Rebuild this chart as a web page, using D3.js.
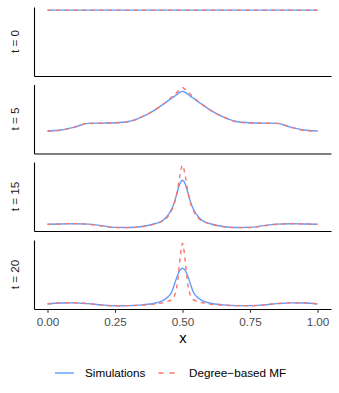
<!DOCTYPE html>
<html><head><meta charset="utf-8">
<script src="https://cdn.jsdelivr.net/npm/d3@7/dist/d3.min.js"></script>
<style>body{margin:0;background:#fff}svg{display:block;font-family:"Liberation Sans",Arial,sans-serif}</style>
</head><body><svg id="c" width="339" height="393"></svg>
<script>
const xs = [0,0.05,0.1,0.15,0.2,0.25,0.3,0.35,0.4,0.42,0.44,0.46,0.47,0.48,0.49,0.5,0.51,0.52,0.53,0.54,0.56,0.58,0.6,0.65,0.7,0.75,0.8,0.85,0.9,0.95,1];
const panelLabels = ["t = 0","t = 5","t = 15","t = 20"];
const sim0 = [1,1,1,1,1,1,1,1,1,1,1,1,1,1,1,1,1,1,1,1,1,1,1,1,1,1,1,1,1,1,1];
const mf0  = [1,1,1,1,1,1,1,1,1,1,1,1,1,1,1,1,1,1,1,1,1,1,1,1,1,1,1,1,1,1,1];
const sim5 = [0.31,0.325,0.37,0.43,0.435,0.44,0.46,0.535,0.65,0.71,0.77,0.83,0.86,0.895,0.925,0.94,0.925,0.895,0.86,0.83,0.77,0.71,0.65,0.535,0.46,0.44,0.435,0.43,0.37,0.325,0.31];
const mf5  = [0.305,0.32,0.37,0.43,0.433,0.437,0.455,0.535,0.65,0.71,0.775,0.85,0.89,0.93,0.97,1.0,0.97,0.93,0.89,0.85,0.775,0.71,0.65,0.535,0.455,0.437,0.433,0.43,0.37,0.32,0.305];
const sim15 = [0.057,0.062,0.066,0.06,0.035,0.008,0.006,0.022,0.07,0.10,0.17,0.30,0.41,0.56,0.70,0.76,0.70,0.56,0.41,0.30,0.17,0.10,0.07,0.022,0.006,0.008,0.035,0.06,0.066,0.062,0.057];
const mf15  = [0.055,0.063,0.068,0.058,0.03,0.005,0.004,0.02,0.065,0.095,0.15,0.28,0.39,0.57,0.83,1.0,0.83,0.57,0.39,0.28,0.15,0.095,0.065,0.02,0.004,0.005,0.03,0.058,0.068,0.063,0.055];
const sim20 = [0.03,0.045,0.048,0.035,0.015,0.003,0.004,0.015,0.045,0.07,0.12,0.22,0.34,0.47,0.565,0.60,0.565,0.47,0.34,0.22,0.12,0.07,0.045,0.015,0.004,0.003,0.015,0.035,0.048,0.045,0.03];
const mf20  = [0.032,0.048,0.05,0.036,0.014,0.002,0.003,0.012,0.03,0.045,0.065,0.10,0.16,0.33,0.72,1.0,0.72,0.33,0.16,0.10,0.065,0.045,0.03,0.012,0.003,0.002,0.014,0.036,0.05,0.048,0.032];
const xTicks = [0,0.25,0.5,0.75,1];
const seriesNames = ["Simulations","Degree\u2212based MF"];

const simSets = [sim0,sim5,sim15,sim20];
const mfSets = [mf0,mf5,mf15,mf20];
const blue = "#619CFF", red = "#F8766D";
const lw = 1.4;
const svg = d3.select("#c");
const left = 34, right = 331;
const tops = [7,84.5,162,240], ph = 69;
const x = d3.scaleLinear().domain([-0.05,1.05]).range([left,right]);

tops.forEach((top,i)=>{
  const bottom = top+ph;
  const mx = d3.max(simSets[i].concat(mfSets[i]));
  const y = d3.scaleLinear().domain([-0.05*mx,1.05*mx]).range([bottom,top]);
  const g = svg.append("g");
  const line = d3.line().x((d,j)=>x(xs[j])).y(d=>y(d)).curve(d3.curveMonotoneX);
  g.append("path").datum(simSets[i]).attr("d",line).attr("fill","none")
    .attr("stroke",blue).attr("stroke-width",lw);
  g.append("path").datum(mfSets[i]).attr("d",line).attr("fill","none")
    .attr("stroke",red).attr("stroke-width",lw).attr("stroke-dasharray","4.3,4.3");
  const ya = g.append("g").attr("transform",`translate(${left},0)`)
    .call(d3.axisLeft(y).tickValues([]).tickSizeOuter(0));
  ya.select(".domain").attr("stroke","#000").attr("stroke-width",1.1);
  const isLast = i===tops.length-1;
  const xa = g.append("g").attr("transform",`translate(0,${bottom})`)
    .call(d3.axisBottom(x).tickValues(isLast?xTicks:[]).tickSizeOuter(0).tickSizeInner(3.7).tickPadding(5).tickFormat(d3.format(".2f")));
  xa.select(".domain").attr("stroke","#000").attr("stroke-width",1.1);
  xa.selectAll(".tick line").attr("stroke","#333").attr("stroke-width",1.1);
  xa.selectAll(".tick text").attr("fill","#4D4D4D").attr("font-size","11.7px").attr("font-family","Liberation Sans, Arial, sans-serif");
  svg.append("text").attr("transform",`translate(19,${top+ph/2}) rotate(-90)`)
    .attr("text-anchor","middle").attr("font-size","11.7px").attr("fill","#1A1A1A").text(panelLabels[i]);
});

svg.append("text").attr("x",(left+right)/2+0.5).attr("y",343).attr("text-anchor","middle")
  .attr("font-size","14.7px").attr("fill","#000").text("x");

const lg = svg.append("g");
lg.append("line").attr("x1",55).attr("x2",74).attr("y1",373).attr("y2",373).attr("stroke",blue).attr("stroke-width",lw);
lg.append("text").attr("x",85).attr("y",377).attr("font-size","11.7px").attr("fill","#000").text(seriesNames[0]);
lg.append("line").attr("x1",158.5).attr("x2",177.5).attr("y1",373).attr("y2",373).attr("stroke",red).attr("stroke-width",lw).attr("stroke-dasharray","5,6");
lg.append("text").attr("x",189).attr("y",377).attr("font-size","11.7px").attr("fill","#000").text(seriesNames[1]);
</script></body></html>
